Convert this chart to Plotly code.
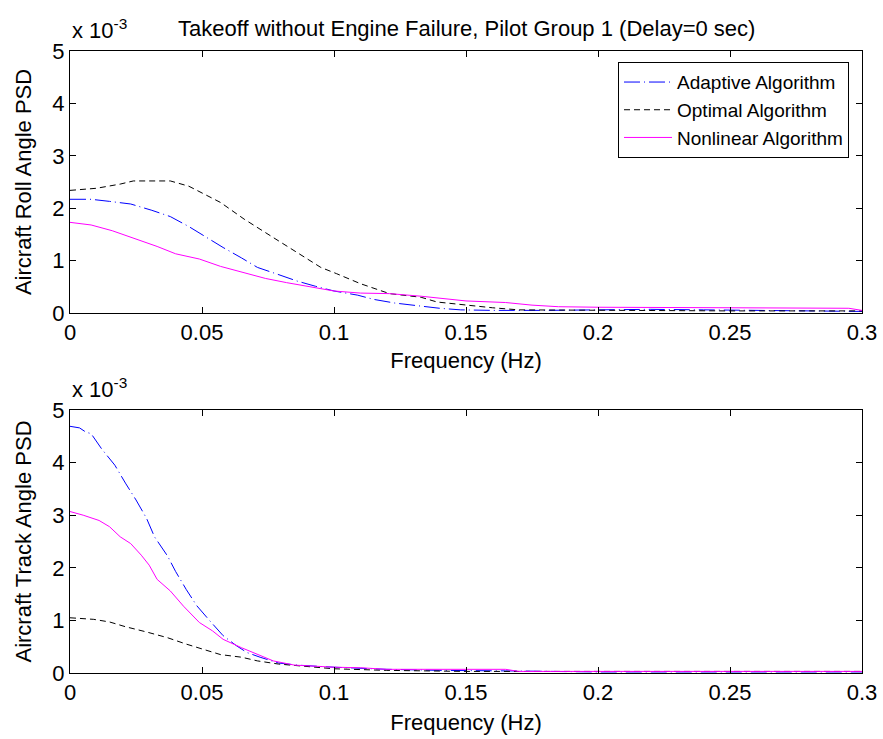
import plotly.graph_objects as go

# Values in units of 1e-3 (PSD), frequency in Hz
# ---- Top: Aircraft Roll Angle PSD ----
roll_adaptive_f = [0, 0.008, 0.015, 0.023, 0.031, 0.038, 0.045, 0.052, 0.058, 0.065, 0.071, 0.078,
                   0.086, 0.093, 0.100, 0.109, 0.115, 0.123, 0.133, 0.140, 0.148, 0.160, 0.180,
                   0.200, 0.220, 0.240, 0.260, 0.280, 0.300]
roll_adaptive = [2.17, 2.17, 2.13, 2.08, 1.96, 1.84, 1.65, 1.43, 1.25, 1.05, 0.87, 0.75,
                 0.61, 0.51, 0.42, 0.34, 0.26, 0.19, 0.13, 0.09, 0.06, 0.05, 0.05,
                 0.06, 0.07, 0.06, 0.05, 0.04, 0.03]

roll_optimal_f = [0, 0.010, 0.019, 0.024, 0.038, 0.045, 0.057, 0.066, 0.077, 0.086, 0.095, 0.101,
                  0.110, 0.121, 0.133, 0.139, 0.150, 0.160, 0.170, 0.200, 0.250, 0.300]
roll_optimal = [2.34, 2.38, 2.46, 2.52, 2.52, 2.42, 2.11, 1.79, 1.44, 1.16, 0.87, 0.75,
                0.56, 0.37, 0.30, 0.21, 0.15, 0.10, 0.06, 0.05, 0.04, 0.04]

roll_nonlinear_f = [0, 0.008, 0.016, 0.024, 0.033, 0.040, 0.049, 0.057, 0.064, 0.074, 0.082, 0.092,
                    0.100, 0.110, 0.121, 0.133, 0.143, 0.150, 0.165, 0.175, 0.185, 0.200, 0.250,
                    0.295, 0.300]
roll_nonlinear = [1.73, 1.68, 1.57, 1.43, 1.27, 1.13, 1.03, 0.89, 0.79, 0.66, 0.58, 0.49,
                  0.42, 0.38, 0.37, 0.32, 0.27, 0.23, 0.20, 0.15, 0.12, 0.11, 0.10,
                  0.09, 0.05]

# ---- Bottom: Aircraft Track Angle PSD ----
track_adaptive_f = [0, 0.0036, 0.006, 0.008, 0.012, 0.017, 0.021, 0.025, 0.029, 0.032, 0.037, 0.040,
                    0.044, 0.048, 0.053, 0.058, 0.063, 0.067, 0.072, 0.079, 0.086, 0.100, 0.120,
                    0.140, 0.165, 0.200, 0.250, 0.300]
track_adaptive = [4.69, 4.66, 4.58, 4.55, 4.26, 3.95, 3.61, 3.29, 2.94, 2.59, 2.22, 1.93,
                  1.59, 1.28, 0.99, 0.71, 0.52, 0.39, 0.30, 0.19, 0.15, 0.11, 0.07,
                  0.05, 0.04, 0.02, 0.02, 0.02]

track_optimal_f = [0, 0.009, 0.015, 0.021, 0.029, 0.037, 0.044, 0.051, 0.057, 0.065, 0.071, 0.079,
                   0.087, 0.100, 0.120, 0.150, 0.200, 0.300]
track_optimal = [1.05, 1.02, 0.97, 0.88, 0.78, 0.67, 0.55, 0.45, 0.35, 0.30, 0.23, 0.17,
                 0.14, 0.08, 0.05, 0.03, 0.03, 0.03]

track_nonlinear_f = [0, 0.005, 0.011, 0.015, 0.019, 0.023, 0.027, 0.030, 0.033, 0.038, 0.043, 0.049,
                     0.054, 0.058, 0.065, 0.070, 0.077, 0.085, 0.100, 0.110, 0.120, 0.165, 0.170,
                     0.300]
track_nonlinear = [3.07, 3.00, 2.90, 2.78, 2.59, 2.46, 2.24, 2.05, 1.78, 1.56, 1.27, 0.96,
                   0.80, 0.64, 0.48, 0.38, 0.23, 0.15, 0.11, 0.10, 0.07, 0.07, 0.03,
                   0.03]

series_names = ["Adaptive Algorithm", "Optimal Algorithm", "Nonlinear Algorithm"]
x_ticks = [0, 0.05, 0.1, 0.15, 0.2, 0.25, 0.3]
x_tick_labels = ["0", "0.05", "0.1", "0.15", "0.2", "0.25", "0.3"]
y_ticks = [0, 1, 2, 3, 4, 5]
y_tick_labels = ["0", "1", "2", "3", "4", "5"]

title_text = "Takeoff without Engine Failure, Pilot Group 1 (Delay=0 sec)"
y_titles = ["Aircraft Roll Angle PSD", "Aircraft Track Angle PSD"]
x_title = "Frequency (Hz)"

FONT = "Liberation Sans, Arial, sans-serif"
FS = 22
styles = [dict(color="#0000ff", width=1, dash="16px,4px,1px,4px"),
          dict(color="#000000", width=1, dash="6px,4px"),
          dict(color="#ff00ff", width=1)]

fig = go.Figure()
top = [(roll_adaptive_f, roll_adaptive), (roll_optimal_f, roll_optimal), (roll_nonlinear_f, roll_nonlinear)]
bot = [(track_adaptive_f, track_adaptive), (track_optimal_f, track_optimal), (track_nonlinear_f, track_nonlinear)]
for i, (fx, fy) in enumerate(top):
    fig.add_trace(go.Scatter(x=fx, y=fy, mode="lines", name=series_names[i], line=styles[i],
                             xaxis="x", yaxis="y", showlegend=True))
for i, (fx, fy) in enumerate(bot):
    fig.add_trace(go.Scatter(x=fx, y=fy, mode="lines", name=series_names[i], line=styles[i],
                             xaxis="x2", yaxis="y2", showlegend=False))

axis_common = dict(showline=True, linecolor="black", linewidth=1, mirror="allticks",
                   ticks="inside", ticklen=6, tickcolor="black", showgrid=False, zeroline=False,
                   automargin=False, tickfont=dict(family=FONT, size=FS, color="black"))
H = 622
top_h = 262 / H
bot_h = 263 / H
fig.update_layout(
    width=883, height=739,
    margin=dict(l=70, r=21, t=51, b=66),
    paper_bgcolor="white", plot_bgcolor="white",
    font=dict(family=FONT, color="black"),
    showlegend=True,
    legend=dict(x=0.9836, y=0.982, xanchor="right", yanchor="top", bordercolor="black", borderwidth=1,
                bgcolor="white", font=dict(family=FONT, size=19, color="black"),
                tracegroupgap=0, itemwidth=48),
    xaxis=dict(domain=[0, 1], anchor="y", range=[0, 0.3], tickvals=x_ticks, ticktext=x_tick_labels,
               title=dict(text=x_title, font=dict(family=FONT, size=FS), standoff=8), **axis_common),
    yaxis=dict(domain=[1 - top_h, 1], anchor="x", range=[0, 5], tickvals=y_ticks, ticktext=y_tick_labels,
               title=dict(text=y_titles[0], font=dict(family=FONT, size=FS), standoff=14), **axis_common),
    xaxis2=dict(domain=[0, 1], anchor="y2", range=[0, 0.3], tickvals=x_ticks, ticktext=x_tick_labels,
                title=dict(text=x_title, font=dict(family=FONT, size=FS), standoff=10), **axis_common),
    yaxis2=dict(domain=[0, bot_h], anchor="x2", range=[0, 5], tickvals=y_ticks, ticktext=y_tick_labels,
                title=dict(text=y_titles[1], font=dict(family=FONT, size=FS), standoff=14), **axis_common),
)

fig.add_annotation(text=title_text, xref="paper", yref="paper", x=0.5, y=1, xanchor="center",
                   yanchor="bottom", yshift=8, showarrow=False, font=dict(family=FONT, size=FS))
fig.add_annotation(text="x 10<sup>-3</sup>", xref="paper", yref="paper", x=0, y=1, xanchor="left",
                   yanchor="bottom", xshift=0, yshift=6, showarrow=False, font=dict(family=FONT, size=FS))
fig.add_annotation(text="x 10<sup>-3</sup>", xref="paper", yref="paper", x=0, y=bot_h, xanchor="left",
                   yanchor="bottom", xshift=0, yshift=6, showarrow=False, font=dict(family=FONT, size=FS))

fig.write_html("out.html", config={"displayModeBar": False},
               post_script="document.body.style.margin='0';document.body.style.overflow='hidden';")
